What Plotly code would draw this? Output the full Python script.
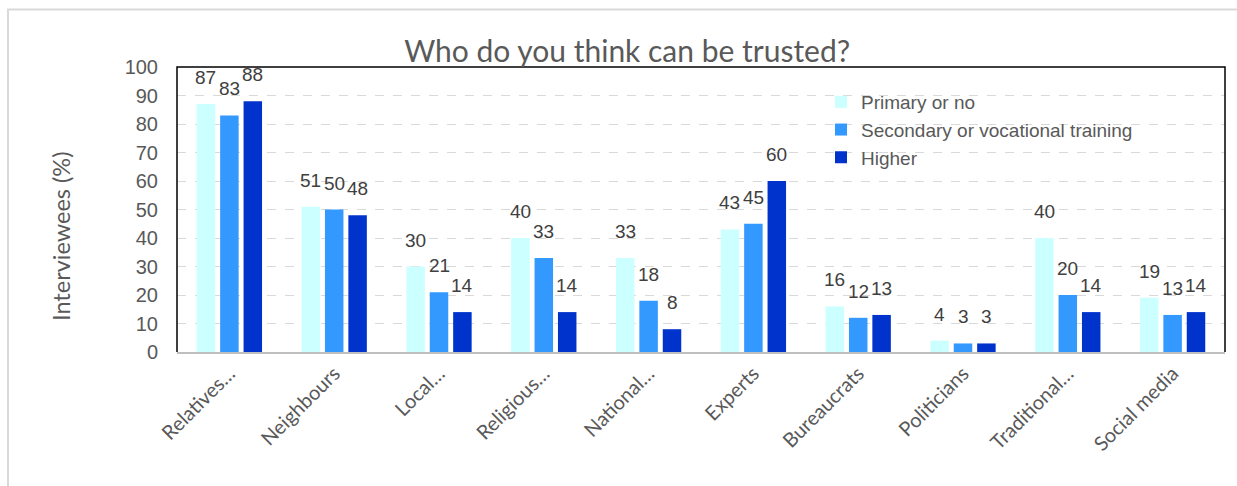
import plotly.graph_objects as go

# Survey answers: share of interviewees trusting each source, by education level
categories = ["Relatives…", "Neighbours", "Local…", "Religious…", "National…",
              "Experts", "Bureaucrats", "Politicians", "Traditional…", "Social media"]
primary = [87, 51, 30, 40, 33, 43, 16, 4, 40, 19]
secondary = [83, 50, 21, 33, 18, 45, 12, 3, 20, 13]
higher = [88, 48, 14, 14, 8, 60, 13, 3, 14, 14]

series_names = ["Primary or no", "Secondary or vocational training", "Higher"]
series_values = [primary, secondary, higher]
series_colors = ["#CCFFFF", "#3399FF", "#0033CC"]

W, H = 1237, 486
M_L, M_R, M_T, M_B = 177, 12, 67, 134
plot_w = W - M_L - M_R
plot_h = H - M_T - M_B
BARGAP = 0.33

fig = go.Figure()
for i, (name, vals, col) in enumerate(zip(series_names, series_values, series_colors)):
    fig.add_trace(go.Bar(
        x=categories, y=vals, name=name, legendgroup=name,
        marker=dict(color=col, line=dict(width=0)),
    ))

# value labels above each bar
cat_px = plot_w / len(categories)
slot_px = cat_px * (1 - BARGAP) / len(series_values)
annotations = []
for i, vals in enumerate(series_values):
    for c, v in zip(categories, vals):
        annotations.append(dict(
            x=c, y=v, xref="x", yref="y", text=str(v), showarrow=False,
            xanchor="center", yanchor="bottom",
            xshift=(i - 1) * slot_px, yshift=14,
            font=dict(family="Liberation Sans, Arial", size=19, color="#404040"),
        ))

# y axis title
annotations.append(dict(
    x=(61 - M_L) / plot_w, y=(H - M_B - 237) / plot_h, xref="paper", yref="paper",
    text="Interviewees (%)", textangle=-90, showarrow=False,
    xanchor="center", yanchor="middle",
    font=dict(family="Lato, Open Sans, sans-serif", size=23.5, color="#595959"),
))

shapes = [
    # plot frame on left, top and right
    dict(type="path", xref="paper", yref="paper",
         path="M0,0 L0,1 L1,1 L1,0", line=dict(color="#000000", width=1.5)),
    # light chart-area outline
    dict(type="rect", xref="paper", yref="paper",
         x0=(8 - M_L) / plot_w, x1=(W + 20 - M_L) / plot_w,
         y0=(H - M_B - (H + 20)) / plot_h, y1=(H - M_B - 9.5) / plot_h,
         line=dict(color="#D9D9D9", width=2)),
]

fig.update_layout(
    width=W, height=H,
    margin=dict(l=M_L, r=M_R, t=M_T, b=M_B),
    paper_bgcolor="white", plot_bgcolor="white",
    barmode="group", bargap=BARGAP, bargroupgap=0.21,
    title=dict(text="Who do you think can be trusted?",
               x=0.507, xref="container", xanchor="center",
               y=1 - 51 / H, yref="container", yanchor="middle",
               font=dict(family="Lato, Open Sans, sans-serif", size=30, color="#595959")),
    legend=dict(x=(821 - M_L) / plot_w, y=(H - M_B - 83) / plot_h,
                xanchor="left", yanchor="top", bgcolor="rgba(0,0,0,0)",
                tracegroupgap=0, itemwidth=30,
                font=dict(family="Liberation Sans, Arial", size=19, color="#595959")),
    xaxis=dict(showline=True, linecolor="#BFBFBF", linewidth=2,
               ticks="", tickangle=-45,
               tickfont=dict(family="Lato, Open Sans, sans-serif", size=20, color="#595959")),
    yaxis=dict(range=[0, 100], dtick=10, showline=False, ticks="",
               showgrid=True, gridcolor="#D9D9D9", griddash="dash", gridwidth=1,
               zeroline=False, ticklabelstandoff=18,
               tickfont=dict(family="Liberation Sans, Arial", size=20, color="#595959")),
    annotations=annotations,
    shapes=shapes,
    showlegend=True,
)

fig.write_html("out.html")
